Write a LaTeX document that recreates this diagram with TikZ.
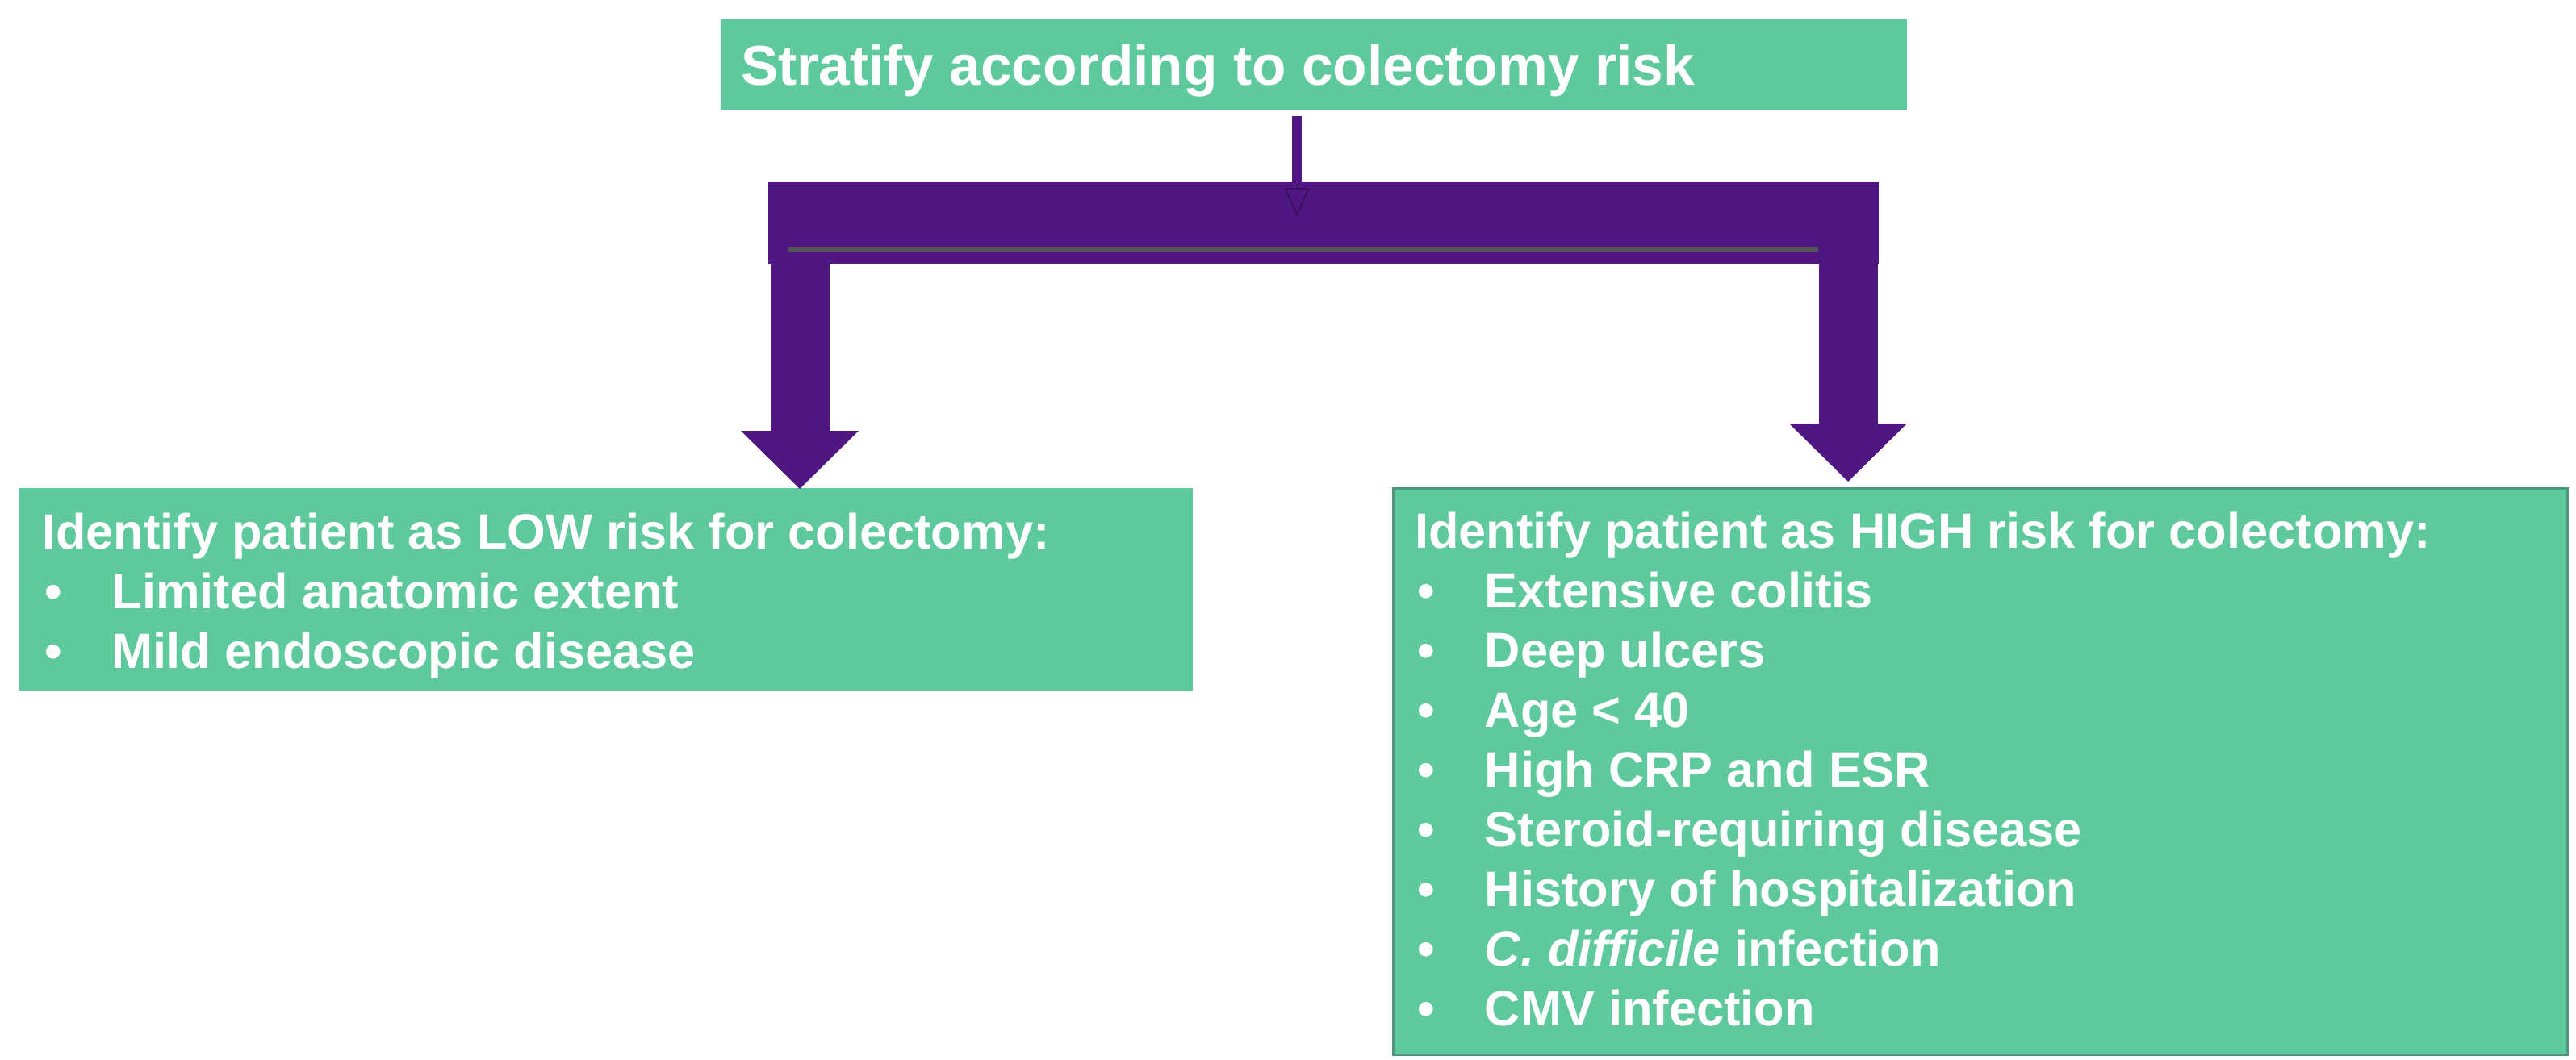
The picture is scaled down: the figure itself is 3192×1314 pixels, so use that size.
\documentclass[tikz,border=0pt]{standalone}
\usepackage{fontspec}
\setmainfont{Liberation Sans}
\usetikzlibrary{arrows.meta}
\definecolor{boxgreen}{RGB}{93,201,156}
\definecolor{edgegreen}{RGB}{78,150,128}
\definecolor{arrpurple}{RGB}{80,22,130}
\definecolor{bargray}{RGB}{85,85,90}
\newcommand\bodyfont{\bfseries\fontsize{18.42pt}{22.23pt}\selectfont}
\newcommand\titlefont{\bfseries\fontsize{20.85pt}{25pt}\selectfont}
\newcommand\bul[1]{\par\noindent\makebox[26pt][l]{\hspace{1pt}\textbullet}#1}
\begin{document}
\begin{tikzpicture}[x=0.3pt,y=-0.3pt,
  greenbox/.style={fill=boxgreen, draw=none, inner sep=0pt, outer sep=0pt, text=white},
  highbox/.style={greenbox, draw=edgegreen, line width=0.9pt},
  purplebar/.style={fill=arrpurple, draw=none, inner sep=0pt, outer sep=0pt, minimum width=412.8pt, minimum height=30.6pt},
  fatarrow/.style={draw=arrpurple, line width=21.9pt, -{Triangle[width=43.8pt,length=21.6pt,line width=0pt]}},
  thinarrow/.style={draw=arrpurple, line width=3.6pt, -{Triangle[width=9.3pt,length=10.5pt,line width=0.5pt,color=arrpurple!70!black,fill=arrpurple]}},
  grayline/.style={draw=bargray, line width=1.8pt}]
\useasboundingbox (0,0) rectangle (3192,1314);

% boxes
\node[greenbox] (top) at (1628,80)
  {\parbox[c][33.6pt][t]{441pt}{\titlefont\raggedright\leftskip=7.5pt\parskip=0pt
   \noindent\rule{0pt}{24.6pt}Stratify according to colectomy risk}};

\node[greenbox] (low) at (751,730.5)
  {\parbox[c][75.3pt][t]{436.2pt}{\bodyfont\raggedright\leftskip=8.4pt\parskip=0pt
   \noindent\rule{0pt}{22.5pt}Identify patient as LOW risk for colectomy:
   \bul{Limited anatomic extent}
   \bul{Mild endoscopic disease}}};

\node[highbox] (high) at (2453.5,956)
  {\parbox[c][210.6pt][t]{436.5pt}{\bodyfont\raggedright\leftskip=8.1pt\parskip=0pt
   \noindent\rule{0pt}{22.2pt}Identify patient as HIGH risk for colectomy:
   \bul{Extensive colitis}
   \bul{Deep ulcers}
   \bul{Age < 40}
   \bul{High CRP and ESR}
   \bul{Steroid-requiring disease}
   \bul{History of hospitalization}
   \bul{\textit{C. difficile} infection}
   \bul{CMV infection}}};

% purple bar
\node[purplebar] (bar) at (1640,276) {};

% connectors
\coordinate (lotip) at (991,606);
\coordinate (hitip) at (2290,597);
\coordinate (midtip) at (1607,268);
\draw[fatarrow] (bar.south -| lotip) -- (lotip);
\draw[fatarrow] (bar.south -| hitip) -- (hitip);
\draw[thinarrow, shorten <=2.4pt] (top.south -| midtip) -- (midtip);
\draw[grayline] ([shift={(25,-18)}]bar.south west) -- ([shift={(-75,-18)}]bar.south east);
\end{tikzpicture}
\end{document}
